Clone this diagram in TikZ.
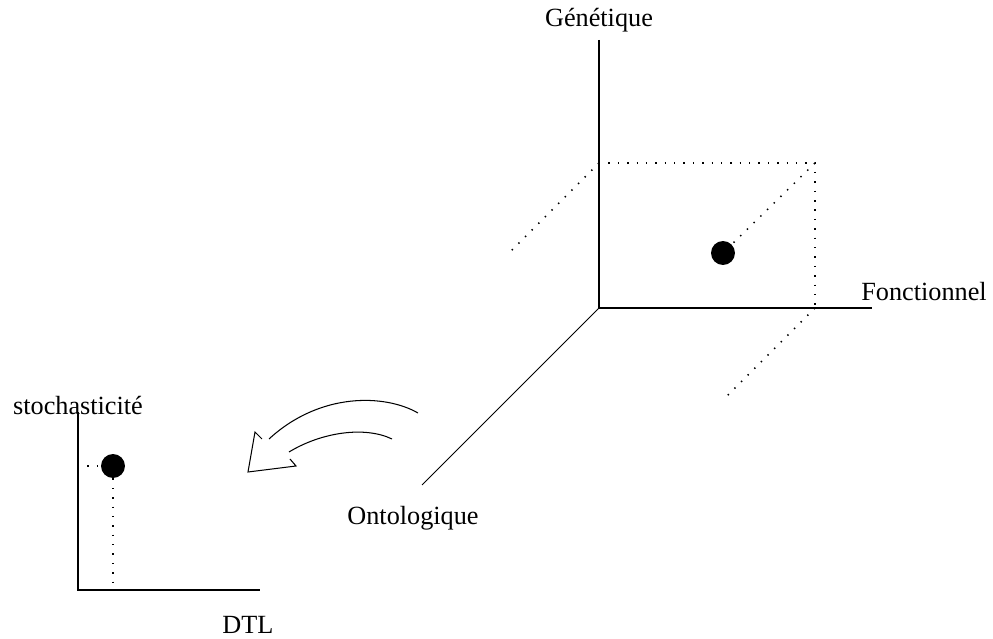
\documentclass[tikz,border=0pt]{standalone}
\usepackage{fontspec}
\setmainfont{Liberation Serif}
\begin{document}
\begin{tikzpicture}[x=0.48pt,y=-0.48pt,font=\fontsize{12.6}{15}\selectfont,
  axis/.style={line width=0.5pt},
  guide/.style={line width=0.7pt,dash pattern=on 0.7pt off 3.8pt},
  point/.style={circle,fill=black,inner sep=0pt,minimum size=11.5pt},
  lab/.style={inner sep=0pt}]
\useasboundingbox (0,0) rectangle (993,639);

%% 3D frame
\coordinate (o) at (599,308);
\coordinate (gen) at (599,40);
\coordinate (fonc) at (872,308);
\coordinate (onto) at (422,485);
\draw[axis] (gen) -- (o) -- (fonc);
\draw[axis] (o) -- (onto);
\node[lab] (genlab) at (599,20) {Génétique};
\node[lab] (fonclab) at (924,292) {Fonctionnel};
\node[lab] (ontolab) at (413,518) {Ontologique};

%% projections of the point
\node[point] (p3) at (723,253) {};
\coordinate (gtop) at (599,163);
\coordinate (corner) at (815,163);
\coordinate (fbase) at (815,308);
\coordinate (gend) at (510,252);
\coordinate (fend) at (726,397);
\draw[guide] (gtop) -- (corner) -- (fbase);
\draw[guide] (gtop) -- (gend);
\draw[guide] (corner) -- (p3);
\draw[guide] (fbase) -- (fend);

%% hollow arrow towards the plane
\coordinate (outA) at (269,439);
\coordinate (outB) at (418,413);
\coordinate (inA) at (289,452);
\coordinate (inB) at (392,439);
\draw[axis] (outA) .. controls (320,392) and (385,394) .. (outB);
\draw[axis] (inA) .. controls (322,432) and (365,426) .. (inB);
\draw[axis,line join=miter] (262,439) -- (255,432) -- (248,472) -- (296,466) -- (290,459);

%% 2D plane
\coordinate (so) at (78,590);
\coordinate (stoch) at (78,412);
\coordinate (dtl) at (260,590);
\draw[axis] (stoch) -- (so) -- (dtl);
\node[lab] (stochlab) at (78,406) {stochasticité};
\node[lab] (dtllab) at (248,625) {DTL};
\node[point] (p2) at (113,466) {};
\coordinate (sy) at (78,466);
\coordinate (sx) at (113,590);
\draw[guide] (sy) -- (p2);
\draw[guide] (p2) -- (sx);
\end{tikzpicture}
\end{document}
